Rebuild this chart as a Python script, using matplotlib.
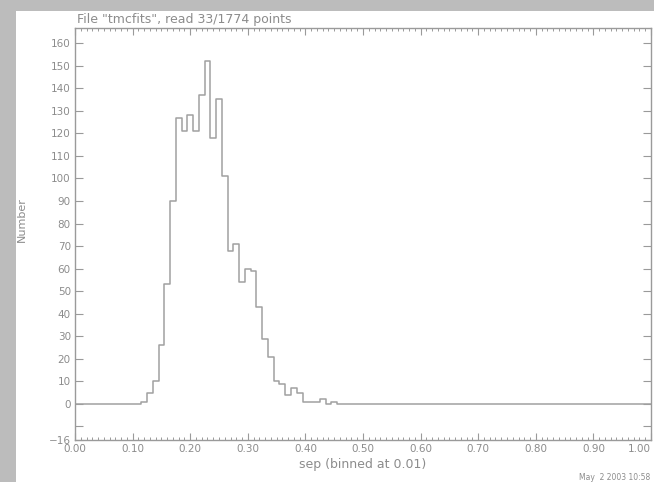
import matplotlib.pyplot as plt
import matplotlib.patches as patches
import numpy as np

# histogram of sep, binned at 0.01 (value per bin centre)
bin_idx = np.arange(0, 101)
sep = bin_idx * 0.01
counts = np.zeros(101)
nonzero_bins = [12, 13, 14, 15, 16, 17, 18, 19, 20, 21, 22, 23, 24, 25, 26, 27, 28,
                29, 30, 31, 32, 33, 34, 35, 36, 37, 38, 39, 40, 41, 42, 43, 44, 45]
nonzero_counts = [1, 5, 10, 26, 53, 90, 127, 121, 128, 121, 137, 152, 118, 135, 101, 68, 71,
                  54, 60, 59, 43, 29, 21, 10, 9, 4, 7, 5, 1, 1, 1, 2, 0, 1]
counts[nonzero_bins] = nonzero_counts

xtick_vals = [0.0, 0.1, 0.2, 0.3, 0.4, 0.5, 0.6, 0.7, 0.8, 0.9, 1.0]
xtick_labels = ['0.00', '0.10', '0.20', '0.30', '0.40', '0.50', '0.60', '0.70', '0.80', '0.90', '1.00']
ytick_vals = [-16] + list(range(0, 170, 10))
ytick_labels = ['\u221216'] + [str(v) for v in range(0, 170, 10)]

grey = '#9a9a9a'
txt = '#8c8c8c'

fig = plt.figure(figsize=(6.54, 4.82), dpi=100, facecolor='#bcbcbc')
# white page area behind everything
fig.patches.append(patches.Rectangle((16 / 654, 0), 1, 1 - 11 / 482, transform=fig.transFigure,
                                     facecolor='white', edgecolor='none', zorder=-10))

ax = fig.add_axes([75 / 654, 1 - 440 / 482, 576 / 654, 412 / 482])
ax.set_zorder(5)
ax.set_facecolor('white')
ax.step(sep, counts, where='mid', color='#a0a0a0', lw=1.1)

ax.set_xlim(0, 1.0)
ax.set_ylim(-16, 166.7)

ax.set_xticks(xtick_vals)
ax.set_xticklabels(xtick_labels)
ax.set_xticks(np.arange(0, 1.001, 0.01), minor=True)
ax.set_yticks(ytick_vals)
ax.set_yticklabels(ytick_labels)
ax.set_yticks([-10], minor=True)

ax.tick_params(axis='x', which='major', direction='in', length=5, width=0.8, color=grey,
               top=True, bottom=True, labelsize=7.5, labelcolor=txt, pad=3)
ax.tick_params(axis='x', which='minor', direction='in', length=2.5, width=0.7, color=grey,
               top=True, bottom=True)
ax.tick_params(axis='y', which='both', direction='in', length=6, width=0.8, color=grey,
               left=True, right=True, labelsize=7.5, labelcolor=txt, pad=3)
for s in ax.spines.values():
    s.set_color(grey)
    s.set_linewidth(1.0)

# last label sits against the page edge
ax.get_xticklabels()[-1].set_horizontalalignment('right')

ax.set_xlabel('sep (binned at 0.01)', fontsize=9, color=txt, labelpad=3)
fig.text(22 / 654, 1 - 220 / 482, 'Number', rotation=90, fontsize=8, color=txt,
         ha='center', va='center')
fig.text(77 / 654, 1 - 20 / 482, 'File "tmcfits", read 33/1774 points', fontsize=9,
         color=txt, ha='left', va='center')
fig.text(650 / 654, 1 - 478 / 482, 'May  2 2003 10:58', fontsize=5.5, color=txt,
         ha='right', va='center')

fig.savefig('out.png', dpi=100, facecolor=fig.get_facecolor())
